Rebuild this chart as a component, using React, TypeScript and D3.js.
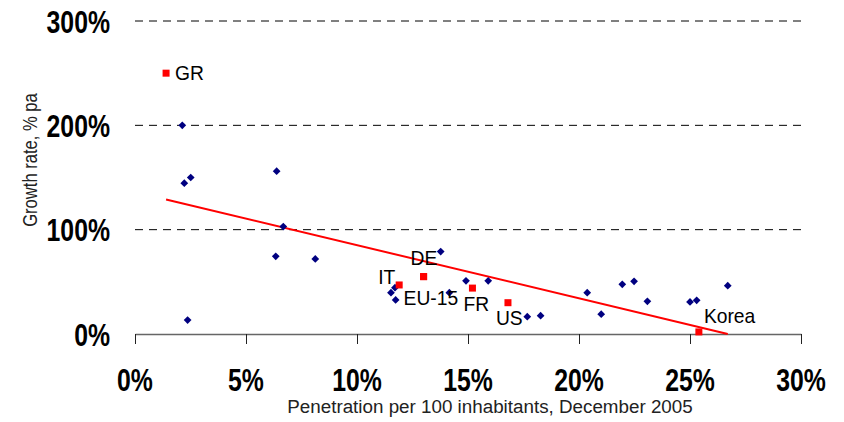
import { useEffect, useRef } from 'react';
import * as d3 from 'd3';

// Highlighted countries (red squares)
const labelled = ['GR', 'IT', 'DE', 'EU-15', 'FR', 'US', 'Korea'];
const labelledPenetration = [1.4, 11.9, 13.0, 13.0, 15.2, 16.8, 25.4];
const labelledGrowth = [250, 47, 55, 55, 44, 30, 2];

// Other OECD countries (blue diamonds)
const otherPenetration = [2.13, 2.22, 2.51, 2.37, 6.38, 6.68, 6.34, 8.12, 11.71, 11.53, 11.74, 13.77, 14.16, 14.91, 15.91, 17.67, 18.27, 20.37, 21.0, 21.95, 22.48, 23.08, 25.0, 25.3, 26.7];
const otherGrowth = [200, 144.5, 150, 13.4, 156, 103, 74.5, 72, 44.4, 39.6, 32.6, 79, 39.6, 51, 51, 16.6, 17.5, 39.6, 19, 47.6, 50.5, 31.3, 30.7, 32.3, 46.3];

// Trend line end points
const trendPenetration = [1.4, 26.7];
const trendGrowth = [129, 0];

const xTicks = [0, 5, 10, 15, 20, 25, 30];
const yTicks = [0, 100, 200, 300];

const FONT = '"Liberation Sans", Arial, sans-serif';

// label placement relative to the point (dx, dy)
const labelOffsets: Record<string, [number, number]> = {
    GR: [9, 7],
    DE: [-13, -12],
    IT: [-21, -1],
    'EU-15': [-20, 28],
    FR: [-9, 23],
    US: [-12, 22],
    Korea: [5, -9],
};

const App = () => {
    const svgRef = useRef<SVGSVGElement>(null);

    useEffect(() => {
        if (!svgRef.current) return;
        const svg = d3.select(svgRef.current);
        svg.selectAll('*').remove();

        const x = d3.scaleLinear().domain([0, 30]).range([135, 801]);
        const y = d3.scaleLinear().domain([0, 300]).range([334, 21]);

        // text squeezed horizontally to mimic the condensed face
        const narrowText = (
            parent: d3.Selection<any, any, any, any>,
            tx: number, ty: number, sx: number, size: number, bold: boolean,
            anchor: string, str: string, rotate = 0, fill = '#000'
        ) => {
            parent.append('g')
                .attr('transform', `translate(${tx},${ty}) rotate(${rotate}) scale(${sx},1)`)
                .append('text')
                .attr('text-anchor', anchor)
                .style('font-family', FONT)
                .style('font-weight', bold ? 'bold' : 'normal')
                .style('font-size', `${size}px`)
                .attr('fill', fill)
                .text(str);
        };

        // gridlines
        svg.append('g')
            .selectAll('line')
            .data(yTicks.filter(d => d > 0))
            .join('line')
            .attr('x1', x(0))
            .attr('x2', x(30))
            .attr('y1', d => y(d))
            .attr('y2', d => y(d))
            .attr('stroke', '#000')
            .attr('stroke-width', 1)
            .attr('stroke-dasharray', '8,6');

        // x axis
        const xAxis = svg.append('g')
            .attr('transform', `translate(0,${y(0)})`)
            .call(d3.axisBottom(x).tickValues(xTicks).tickSize(10).tickSizeOuter(0).tickFormat(() => ''));
        xAxis.select('.domain').attr('stroke', '#666').attr('stroke-width', 1.5);
        xAxis.selectAll('.tick line').attr('stroke', '#222');

        // tick labels
        const tickLabels = svg.append('g');
        xTicks.forEach(d => narrowText(tickLabels, x(d), 391, 0.8, 31, true, 'middle', `${d}%`));
        yTicks.forEach(d => narrowText(tickLabels, 110, y(d) + 11.5, 0.8, 31, true, 'end', `${d}%`));

        // axis titles
        narrowText(svg, 490, 413, 0.99, 19, false, 'middle', 'Penetration per 100 inhabitants, December 2005', 0, '#222');
        narrowText(svg, 37, 160, 0.83, 20, false, 'middle', 'Growth rate, % pa', -90, '#222');

        // trend line
        const line = d3.line<number>()
            .x(i => x(trendPenetration[i]))
            .y(i => y(trendGrowth[i]));
        svg.append('path')
            .datum(trendPenetration.map((_, i) => i))
            .attr('d', line)
            .attr('fill', 'none')
            .attr('stroke', '#ff0000')
            .attr('stroke-width', 2);

        // other countries
        const diamond = d3.symbol().type(d3.symbolSquare).size(30);
        svg.append('g')
            .selectAll('path')
            .data(otherPenetration.map((_, i) => i))
            .join('path')
            .attr('d', diamond)
            .attr('transform', i => `translate(${x(otherPenetration[i])},${y(otherGrowth[i])}) rotate(45)`)
            .attr('fill', '#000080');

        // labelled countries
        svg.append('g')
            .selectAll('rect')
            .data(labelled.map((_, i) => i))
            .join('rect')
            .attr('x', i => x(labelledPenetration[i]) - 3.5)
            .attr('y', i => y(labelledGrowth[i]) - 3.5)
            .attr('width', 7)
            .attr('height', 7)
            .attr('fill', '#ff0000');

        const labels = svg.append('g');
        labelled.forEach((name, i) => {
            const [dx, dy] = labelOffsets[name];
            narrowText(labels, x(labelledPenetration[i]) + dx, y(labelledGrowth[i]) + dy, 0.94, 20.5, false, 'start', name);
        });
    }, []);

    return (
        <div style={{ position: 'absolute', left: 0, top: 0 }}>
            <svg ref={svgRef} width={844} height={422} style={{ display: 'block', background: '#fff' }}></svg>
        </div>
    );
};

export default App;
